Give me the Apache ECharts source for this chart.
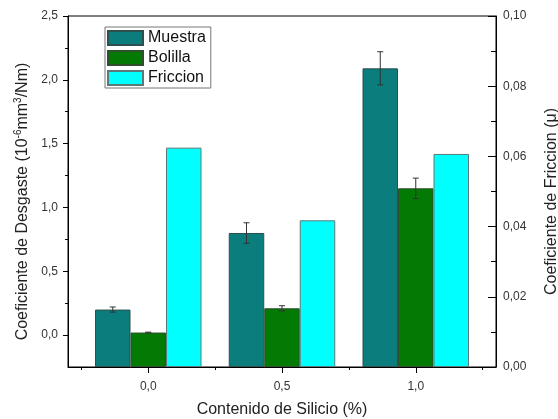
<!DOCTYPE html>
<html>
<head>
<meta charset="utf-8">
<script src="https://cdn.jsdelivr.net/npm/echarts@6/dist/echarts.min.js"></script>
<style>
  html, body { margin: 0; padding: 0; background: #fff; }
  #chart { width: 558px; height: 419px; }
</style>
</head>
<body>
<div id="chart"></div>
<script>
// contenido de silicio (%)
const silicio = [0, 0.5, 1.0];
// coeficiente de desgaste (10^-6 mm3/Nm)
const muestra = [0.20, 0.80, 2.09];
const muestraErr = [0.02, 0.08, 0.13];
const bolilla = [0.02, 0.21, 1.15];
const bolillaErr = [0.003, 0.02, 0.08];
// coeficiente de friccion
const friccion = [0.0625, 0.0418, 0.0607];

const leftTicks = [0, 0.5, 1.0, 1.5, 2.0, 2.5];
const leftMinor = [0.25, 0.75, 1.25, 1.75, 2.25];
const xTicks = [0, 0.5, 1.0];
const xMinor = [-0.25, 0.25, 0.75, 1.25];

const BAR_W = 35.5;
const FONT = "Liberation Sans";

const comma = (v, d) => v.toFixed(d).replace(".", ",");

function errorSeries(name, values, errs, offset) {
  return {
    type: "custom",
    name: name + "-err",
    yAxisIndex: 0,
    z: 5,
    silent: true,
    data: silicio.map((x, i) => [x, values[i], errs[i]]),
    renderItem: (params, api) => {
      const x = api.value(0);
      const v = api.value(1);
      const e = api.value(2);
      const hi = api.coord([x, v + e]);
      const lo = api.coord([x, v - e]);
      const cx = hi[0] + offset;
      const style = { stroke: "#333", lineWidth: 1 };
      return {
        type: "group",
        children: [
          { type: "line", shape: { x1: cx, y1: hi[1], x2: cx, y2: lo[1] }, style },
          { type: "line", shape: { x1: cx - 3, y1: hi[1], x2: cx + 3, y2: hi[1] }, style },
          { type: "line", shape: { x1: cx - 3, y1: lo[1], x2: cx + 3, y2: lo[1] }, style },
        ],
      };
    },
  };
}

const chart = echarts.init(document.getElementById("chart"));

const option = {
  animation: false,
  textStyle: { fontFamily: FONT },
  grid: {
    left: 68,
    right: 62,
    top: 16,
    bottom: 52,
    outerBoundsMode: "none",
    show: true,
    borderColor: "#000",
    borderWidth: 1,
    backgroundColor: "transparent",
  },
  legend: {
    orient: "vertical",
    left: 105,
    top: 27,
    icon: "rect",
    itemWidth: 35,
    itemHeight: 14,
    itemGap: 4,
    padding: [3, 5, 2, 2],
    borderColor: "#777",
    borderWidth: 1,
    textStyle: { fontSize: 16, color: "#111", fontFamily: FONT },
    data: ["Muestra", "Bolilla", "Friccion"],
  },
  xAxis: [
    {
      type: "value",
      min: -0.3,
      max: 1.3,
      name: "Contenido de Silicio (%)",
      nameLocation: "middle",
      nameGap: 35,
      nameTextStyle: { fontSize: 16, color: "#222" },
      axisLine: { onZero: false, lineStyle: { color: "#000" } },
      axisTick: { customValues: xTicks, length: 6, lineStyle: { color: "#000" } },
      axisLabel: {
        customValues: xTicks,
        margin: 14,
        fontSize: 12,
        color: "#333",
        formatter: (v) => comma(v, 1),
      },
      splitLine: { show: false },
    },
    {
      type: "value",
      position: "bottom",
      min: -0.3,
      max: 1.3,
      axisLine: { show: false, onZero: false },
      axisTick: { customValues: xMinor, length: 3, lineStyle: { color: "#000" } },
      axisLabel: { show: false },
      splitLine: { show: false },
    },
  ],
  yAxis: [
    {
      type: "value",
      position: "left",
      min: -0.25,
      max: 2.5,
      startValue: -0.25,
      name: "{a|Coeficiente de Desgaste (10}{s|-6}{a|mm}{s|3}{a|/Nm)}",
      nameLocation: "middle",
      nameGap: 24,
      nameTextStyle: {
        padding: [0, 20, 0, 0],
        rich: {
          a: { fontSize: 16, color: "#222", fontFamily: FONT },
          s: { fontSize: 10, color: "#222", fontFamily: FONT, verticalAlign: "top", padding: [0, 0, 8, 0] },
        },
      },
      axisLine: { show: true, onZero: false, lineStyle: { color: "#000" } },
      axisTick: { customValues: leftTicks, length: 5, lineStyle: { color: "#000" } },
      axisLabel: {
        customValues: leftTicks,
        margin: 10,
        fontSize: 12,
        color: "#333",
        formatter: (v) => comma(v, 1),
      },
      splitLine: { show: false },
    },
    {
      type: "value",
      position: "right",
      min: 0,
      max: 0.1,
      interval: 0.02,
      name: "Coeficiente de Friccion (μ)",
      nameLocation: "middle",
      nameGap: 48,
      nameTextStyle: { fontSize: 16, color: "#222", padding: [0, 20, 0, 0] },
      axisLine: { show: true, onZero: false, lineStyle: { color: "#000" } },
      axisTick: { inside: true, length: 8, lineStyle: { color: "#000" } },
      minorTick: { show: true, splitNumber: 2, length: 5, lineStyle: { color: "#000" } },
      axisLabel: {
        margin: 7,
        fontSize: 12,
        color: "#333",
        formatter: (v) => comma(v, 2),
      },
      splitLine: { show: false },
    },
    {
      type: "value",
      position: "left",
      min: -0.25,
      max: 2.5,
      axisLine: { show: false, onZero: false },
      axisTick: { customValues: leftMinor, length: 3, lineStyle: { color: "#000" } },
      axisLabel: { show: false },
      splitLine: { show: false },
    },
  ],
  series: [
    {
      name: "Muestra",
      type: "bar",
      yAxisIndex: 0,
      barWidth: BAR_W,
      barGap: "0%",
      itemStyle: { color: "#0b7d7d", borderColor: "#2f4f4f", borderWidth: 1 },
      data: silicio.map((x, i) => [x, muestra[i]]),
    },
    {
      name: "Bolilla",
      type: "bar",
      yAxisIndex: 0,
      barWidth: BAR_W,
      barGap: "0%",
      itemStyle: { color: "#037a03", borderColor: "#2f4f2f", borderWidth: 1 },
      data: silicio.map((x, i) => [x, bolilla[i]]),
    },
    {
      name: "Friccion",
      type: "bar",
      yAxisIndex: 1,
      barWidth: BAR_W,
      barGap: "0%",
      itemStyle: { color: "#00ffff", borderColor: "#5a7a7a", borderWidth: 1 },
      data: silicio.map((x, i) => [x, friccion[i]]),
    },
    errorSeries("Muestra", muestra, muestraErr, -BAR_W),
    errorSeries("Bolilla", bolilla, bolillaErr, 0),
  ],
};

chart.setOption(option);
</script>
</body>
</html>
